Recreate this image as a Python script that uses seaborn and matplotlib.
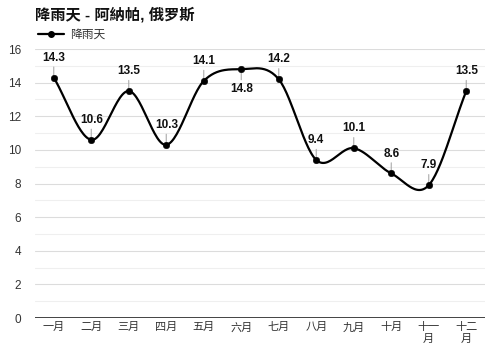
import numpy as np
import pandas as pd
import matplotlib
matplotlib.use("Agg")
import matplotlib.pyplot as plt
import seaborn as sns
from matplotlib.lines import Line2D

# data
months = ['一月', '二月', '三月', '四月', '五月', '六月', '七月', '八月', '九月', '十月', '十一\n月', '十二\n月']
rain_days = [14.3, 10.6, 13.5, 10.3, 14.1, 14.8, 14.2, 9.4, 10.1, 8.6, 7.9, 13.5]
label_below = [False, False, False, False, False, True, False, False, False, False, False, False]
title = '降雨天 - 阿納帕, 俄罗斯'
series_name = '降雨天'

sns.set_style("white")
plt.rcParams['font.family'] = ['Liberation Sans', 'Noto Sans CJK SC', 'DejaVu Sans']

df = pd.DataFrame({'idx': np.arange(len(months)), 'days': rain_days})

# smooth curve (Catmull-Rom style) through the points
y = np.array(rain_days)
n = len(y)
m = np.zeros(n)
m[1:-1] = (y[2:] - y[:-2]) / 2
m[0] = y[1] - y[0]
m[-1] = y[-1] - y[-2]
xs, ys = [], []
for i in range(n - 1):
    t = np.linspace(0, 1, 30)
    h00 = 2 * t**3 - 3 * t**2 + 1
    h10 = t**3 - 2 * t**2 + t
    h01 = -2 * t**3 + 3 * t**2
    h11 = t**3 - t**2
    xs.extend(i + t)
    ys.extend(h00 * y[i] + h10 * m[i] + h01 * y[i + 1] + h11 * m[i + 1])
smooth = pd.DataFrame({'x': xs, 'y': ys})

fig = plt.figure(figsize=(5, 3.5), dpi=100)
ax = fig.add_axes([0.07, 0.0914, 0.90, 0.7686])

# grid lines
for v in range(1, 17):
    ax.axhline(v, color='#dcdcdc' if v % 2 == 0 else '#efefef', lw=0.8, zorder=0)
ax.axhline(0, color='#222222', lw=1.2, zorder=1)

sns.lineplot(x='x', y='y', data=smooth, ax=ax, color='black', lw=1.6, zorder=3, sort=False)
sns.scatterplot(x='idx', y='days', data=df, ax=ax, color='black', s=22, zorder=4, edgecolor='black')

for i, v in enumerate(rain_days):
    off, va = (-10, 'top') if label_below[i] else (10, 'bottom')
    ax.annotate(f'{v}', (i, v), xytext=(0, off), textcoords='offset points',
                ha='center', va=va, fontsize=8.5, fontweight='bold', color='#111111',
                arrowprops=dict(arrowstyle='-', color='#aaaaaa', lw=0.8, shrinkA=0, shrinkB=0))

ax.set_xlim(-0.5, n - 0.5)
ax.set_ylim(0, 16)
ax.set_yticks(range(0, 17, 2))
ax.set_xticks(range(n))
ax.set_xticklabels(months, fontsize=8, color='#333333', linespacing=1.25)
ax.tick_params(axis='y', labelsize=8.5, colors='#333333', length=0, pad=10)
ax.tick_params(axis='x', length=0, pad=3)
ax.set_xlabel('')
ax.set_ylabel('')
for s in ax.spines.values():
    s.set_visible(False)

fig.text(0.07, 0.957, title, fontsize=11, fontweight='bold', color='#111111', va='center')
handle = Line2D([0], [0], color='black', lw=1.6, marker='o', markersize=4)
fig.legend([handle], [series_name], loc='center left', bbox_to_anchor=(0.055, 0.9),
           frameon=False, fontsize=8.5, handlelength=2.2, handletextpad=0.5,
           labelcolor='#333333')

fig.savefig('out.png', dpi=100)
